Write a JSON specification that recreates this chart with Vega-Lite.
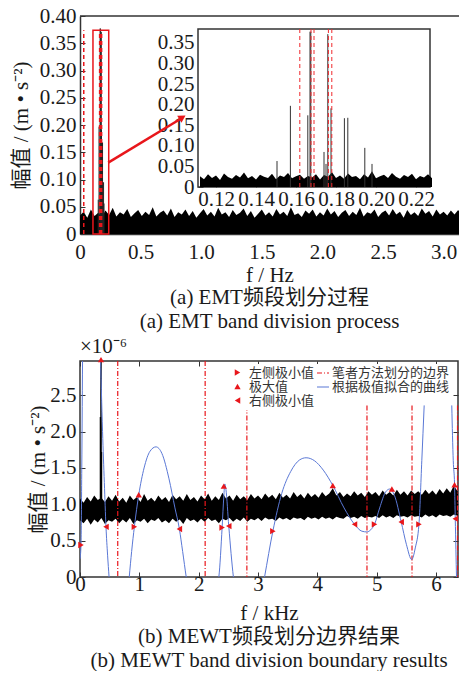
{
"$schema": "https://vega.github.io/schema/vega-lite/v6.json",
"background": "white",
"padding": {"left": 10, "top": 5, "right": 0, "bottom": 0},
"spacing": 3,
"resolve": {"scale": {"color": "independent", "shape": "independent", "strokeDash": "independent"}, "legend": {"color": "independent", "shape": "independent", "strokeDash": "independent"}},
"config": {
  "font": "Liberation Serif, Noto Sans CJK SC",
  "view": {"stroke": null},
  "axis": {"labelFontSize": 21, "labelColor": "#1a1a1a", "titleFontSize": 21, "titleFontWeight": "normal", "titleColor": "#1a1a1a", "grid": false, "tickSize": -5, "tickColor": "#333", "tickWidth": 1, "domain": false, "labelOverlap": false, "labelFlush": false, "labelPadding": 9},
  "legend": {"labelFontSize": 13, "labelColor": "#333", "labelFont": "Liberation Serif, Noto Sans CJK SC"},
  "title": {"fontWeight": "normal", "fontSize": 21, "color": "#1a1a1a"}
},
"title": {"text": ["(b)  MEWT频段划分边界结果", "(b)  MEWT band division boundary results"], "orient": "bottom", "anchor": "middle", "fontSize": 21, "lineHeight": 24, "offset": 2, "dx": 34},
"datasets": {
  "noiseT": [
    {"f":0.00,"a":0.034},{"f":0.03,"a":0.041},{"f":0.06,"a":0.030},{"f":0.09,"a":0.045},{"f":0.12,"a":0.033},{"f":0.15,"a":0.039},{"f":0.18,"a":0.031},{"f":0.21,"a":0.043},{"f":0.24,"a":0.035},{"f":0.27,"a":0.048},
    {"f":0.30,"a":0.032},{"f":0.33,"a":0.040},{"f":0.36,"a":0.036},{"f":0.39,"a":0.046},{"f":0.42,"a":0.031},{"f":0.45,"a":0.038},{"f":0.48,"a":0.044},{"f":0.51,"a":0.033},{"f":0.54,"a":0.041},{"f":0.57,"a":0.035},
    {"f":0.60,"a":0.049},{"f":0.63,"a":0.032},{"f":0.66,"a":0.039},{"f":0.69,"a":0.043},{"f":0.72,"a":0.034},{"f":0.75,"a":0.047},{"f":0.78,"a":0.031},{"f":0.81,"a":0.040},{"f":0.84,"a":0.036},{"f":0.87,"a":0.045},
    {"f":0.90,"a":0.033},{"f":0.93,"a":0.042},{"f":0.96,"a":0.030},{"f":0.99,"a":0.038},{"f":1.02,"a":0.046},{"f":1.05,"a":0.034},{"f":1.08,"a":0.041},{"f":1.11,"a":0.032},{"f":1.14,"a":0.048},{"f":1.17,"a":0.036},
    {"f":1.20,"a":0.040},{"f":1.23,"a":0.031},{"f":1.26,"a":0.044},{"f":1.29,"a":0.035},{"f":1.32,"a":0.039},{"f":1.35,"a":0.047},{"f":1.38,"a":0.033},{"f":1.41,"a":0.042},{"f":1.44,"a":0.030},{"f":1.47,"a":0.037},
    {"f":1.50,"a":0.045},{"f":1.53,"a":0.034},{"f":1.56,"a":0.040},{"f":1.59,"a":0.032},{"f":1.62,"a":0.046},{"f":1.65,"a":0.036},{"f":1.68,"a":0.041},{"f":1.71,"a":0.033},{"f":1.74,"a":0.049},{"f":1.77,"a":0.035},
    {"f":1.80,"a":0.038},{"f":1.83,"a":0.031},{"f":1.86,"a":0.043},{"f":1.89,"a":0.037},{"f":1.92,"a":0.045},{"f":1.95,"a":0.032},{"f":1.98,"a":0.040},{"f":2.01,"a":0.034},{"f":2.04,"a":0.047},{"f":2.07,"a":0.036},
    {"f":2.10,"a":0.042},{"f":2.13,"a":0.031},{"f":2.16,"a":0.039},{"f":2.19,"a":0.044},{"f":2.22,"a":0.033},{"f":2.25,"a":0.041},{"f":2.28,"a":0.035},{"f":2.31,"a":0.048},{"f":2.34,"a":0.032},{"f":2.37,"a":0.040},
    {"f":2.40,"a":0.037},{"f":2.43,"a":0.045},{"f":2.46,"a":0.031},{"f":2.49,"a":0.039},{"f":2.52,"a":0.043},{"f":2.55,"a":0.034},{"f":2.58,"a":0.046},{"f":2.61,"a":0.036},{"f":2.64,"a":0.041},{"f":2.67,"a":0.030},
    {"f":2.70,"a":0.044},{"f":2.73,"a":0.035},{"f":2.76,"a":0.040},{"f":2.79,"a":0.033},{"f":2.82,"a":0.047},{"f":2.85,"a":0.037},{"f":2.88,"a":0.042},{"f":2.91,"a":0.032},{"f":2.94,"a":0.045},{"f":2.97,"a":0.036},
    {"f":3.00,"a":0.041},{"f":3.03,"a":0.034},{"f":3.06,"a":0.043},{"f":3.09,"a":0.036},{"f":3.12,"a":0.044},{"f":3.15,"a":0.035}
  ],
  "spk": [
    {"f":0.1505,"a":0.063},{"f":0.1572,"a":0.197},{"f":0.1659,"a":0.174},{"f":0.1670,"a":0.377},{"f":0.1674,"a":0.377},{"f":0.1740,"a":0.085},
    {"f":0.1750,"a":0.056},{"f":0.1759,"a":0.371},{"f":0.1775,"a":0.191},{"f":0.1842,"a":0.167},{"f":0.1859,"a":0.168},{"f":0.1944,"a":0.095},{"f":0.1980,"a":0.056}
  ],
  "bndT": [{"f":0.031},{"f":0.1619},{"f":0.1675},{"f":0.1690},{"f":0.1762},{"f":0.1779}],
  "noiseI": [
    {"f":0.112,"a":0.026},{"f":0.114,"a":0.019},{"f":0.116,"a":0.031},{"f":0.118,"a":0.022},{"f":0.120,"a":0.028},{"f":0.122,"a":0.017},{"f":0.124,"a":0.033},{"f":0.126,"a":0.024},{"f":0.128,"a":0.020},{"f":0.130,"a":0.029},
    {"f":0.132,"a":0.023},{"f":0.134,"a":0.035},{"f":0.136,"a":0.021},{"f":0.138,"a":0.027},{"f":0.140,"a":0.018},{"f":0.142,"a":0.030},{"f":0.144,"a":0.025},{"f":0.146,"a":0.022},{"f":0.148,"a":0.032},{"f":0.150,"a":0.019},
    {"f":0.152,"a":0.028},{"f":0.154,"a":0.024},{"f":0.156,"a":0.034},{"f":0.158,"a":0.021},{"f":0.160,"a":0.026},{"f":0.162,"a":0.030},{"f":0.164,"a":0.020},{"f":0.166,"a":0.027},{"f":0.168,"a":0.023},{"f":0.170,"a":0.031},
    {"f":0.172,"a":0.018},{"f":0.174,"a":0.029},{"f":0.176,"a":0.025},{"f":0.178,"a":0.036},{"f":0.180,"a":0.022},{"f":0.182,"a":0.028},{"f":0.184,"a":0.020},{"f":0.186,"a":0.033},{"f":0.188,"a":0.024},{"f":0.190,"a":0.027},
    {"f":0.192,"a":0.019},{"f":0.194,"a":0.031},{"f":0.196,"a":0.023},{"f":0.198,"a":0.038},{"f":0.200,"a":0.021},{"f":0.202,"a":0.026},{"f":0.204,"a":0.030},{"f":0.206,"a":0.022},{"f":0.208,"a":0.034},{"f":0.210,"a":0.025},
    {"f":0.212,"a":0.020},{"f":0.214,"a":0.029},{"f":0.216,"a":0.024},{"f":0.218,"a":0.032},{"f":0.220,"a":0.019},{"f":0.222,"a":0.027},{"f":0.224,"a":0.023},{"f":0.226,"a":0.031},{"f":0.228,"a":0.021}
  ],
  "noiseB": [
    {"f":0.00,"t":1.08,"b":0.78},{"f":0.06,"t":1.02,"b":0.74},{"f":0.12,"t":1.10,"b":0.80},{"f":0.18,"t":1.04,"b":0.72},{"f":0.24,"t":1.12,"b":0.79},{"f":0.30,"t":1.06,"b":0.75},{"f":0.36,"t":1.09,"b":0.81},{"f":0.42,"t":1.03,"b":0.73},{"f":0.48,"t":1.11,"b":0.78},{"f":0.54,"t":1.05,"b":0.76},
    {"f":0.60,"t":1.13,"b":0.80},{"f":0.66,"t":1.04,"b":0.74},{"f":0.72,"t":1.09,"b":0.79},{"f":0.78,"t":1.02,"b":0.75},{"f":0.84,"t":1.12,"b":0.81},{"f":0.90,"t":1.06,"b":0.73},{"f":0.96,"t":1.10,"b":0.78},{"f":1.02,"t":1.03,"b":0.76},{"f":1.08,"t":1.14,"b":0.80},{"f":1.14,"t":1.05,"b":0.74},
    {"f":1.20,"t":1.09,"b":0.79},{"f":1.26,"t":1.04,"b":0.77},{"f":1.32,"t":1.12,"b":0.81},{"f":1.38,"t":1.06,"b":0.75},{"f":1.44,"t":1.10,"b":0.78},{"f":1.50,"t":1.03,"b":0.74},{"f":1.56,"t":1.13,"b":0.80},{"f":1.62,"t":1.07,"b":0.76},{"f":1.68,"t":1.11,"b":0.79},{"f":1.74,"t":1.05,"b":0.73},
    {"f":1.80,"t":1.14,"b":0.81},{"f":1.86,"t":1.06,"b":0.77},{"f":1.92,"t":1.10,"b":0.79},{"f":1.98,"t":1.04,"b":0.75},{"f":2.04,"t":1.12,"b":0.80},{"f":2.10,"t":1.07,"b":0.76},{"f":2.16,"t":1.15,"b":0.81},{"f":2.22,"t":1.05,"b":0.77},{"f":2.28,"t":1.11,"b":0.79},{"f":2.34,"t":1.06,"b":0.74},
    {"f":2.40,"t":1.16,"b":0.80},{"f":2.46,"t":1.08,"b":0.78},{"f":2.52,"t":1.12,"b":0.81},{"f":2.58,"t":1.05,"b":0.76},{"f":2.64,"t":1.13,"b":0.80},{"f":2.70,"t":1.07,"b":0.77},{"f":2.76,"t":1.11,"b":0.82},{"f":2.82,"t":1.06,"b":0.76},{"f":2.88,"t":1.14,"b":0.80},{"f":2.94,"t":1.08,"b":0.78},
    {"f":3.00,"t":1.12,"b":0.81},{"f":3.06,"t":1.07,"b":0.77},{"f":3.12,"t":1.15,"b":0.82},{"f":3.18,"t":1.09,"b":0.79},{"f":3.24,"t":1.13,"b":0.80},{"f":3.30,"t":1.07,"b":0.77},{"f":3.36,"t":1.16,"b":0.82},{"f":3.42,"t":1.09,"b":0.79},{"f":3.48,"t":1.13,"b":0.81},{"f":3.54,"t":1.08,"b":0.78},
    {"f":3.60,"t":1.17,"b":0.82},{"f":3.66,"t":1.10,"b":0.80},{"f":3.72,"t":1.14,"b":0.81},{"f":3.78,"t":1.08,"b":0.78},{"f":3.84,"t":1.16,"b":0.83},{"f":3.90,"t":1.10,"b":0.80},{"f":3.96,"t":1.14,"b":0.82},{"f":4.02,"t":1.09,"b":0.79},{"f":4.08,"t":1.17,"b":0.83},{"f":4.14,"t":1.11,"b":0.80},
    {"f":4.20,"t":1.15,"b":0.82},{"f":4.26,"t":1.22,"b":0.79},{"f":4.32,"t":1.12,"b":0.83},{"f":4.38,"t":1.17,"b":0.81},{"f":4.44,"t":1.10,"b":0.80},{"f":4.50,"t":1.15,"b":0.84},{"f":4.56,"t":1.11,"b":0.81},{"f":4.62,"t":1.18,"b":0.83},{"f":4.68,"t":1.12,"b":0.80},{"f":4.74,"t":1.16,"b":0.84},
    {"f":4.80,"t":1.10,"b":0.81},{"f":4.86,"t":1.18,"b":0.83},{"f":4.92,"t":1.13,"b":0.82},{"f":4.98,"t":1.17,"b":0.84},{"f":5.04,"t":1.11,"b":0.81},{"f":5.10,"t":1.19,"b":0.85},{"f":5.16,"t":1.13,"b":0.82},{"f":5.22,"t":1.17,"b":0.84},{"f":5.28,"t":1.12,"b":0.81},{"f":5.34,"t":1.20,"b":0.85},
    {"f":5.40,"t":1.13,"b":0.83},{"f":5.46,"t":1.18,"b":0.84},{"f":5.52,"t":1.12,"b":0.82},{"f":5.58,"t":1.19,"b":0.85},{"f":5.64,"t":1.14,"b":0.83},{"f":5.70,"t":1.18,"b":0.84},{"f":5.76,"t":1.13,"b":0.82},{"f":5.82,"t":1.20,"b":0.86},{"f":5.88,"t":1.14,"b":0.83},{"f":5.94,"t":1.19,"b":0.85},
    {"f":6.00,"t":1.13,"b":0.82},{"f":6.06,"t":1.21,"b":0.86},{"f":6.12,"t":1.15,"b":0.84},{"f":6.18,"t":1.22,"b":0.85},{"f":6.24,"t":1.16,"b":0.83},{"f":6.30,"t":1.26,"b":0.86},{"f":6.37,"t":1.17,"b":0.84}
  ],
  "spkB": [{"f":0.345,"v":2.2},{"f":0.354,"v":2.99},{"f":0.362,"v":1.72}],
  "bndB": [
    {"f":0.636,"top":2.971,"s":"笔者方法划分的边界"},{"f":2.109,"top":2.971,"s":"笔者方法划分的边界"},{"f":2.812,"top":2.36,"s":"笔者方法划分的边界"},
    {"f":4.836,"top":2.36,"s":"笔者方法划分的边界"},{"f":5.595,"top":2.36,"s":"笔者方法划分的边界"},{"f":6.362,"top":2.36,"s":"笔者方法划分的边界"}
  ],
  "curve": [
    {"f":0.0,"v":0.25,"seg":"A"},{"f":0.017,"v":0.44,"seg":"A"},{"f":0.03,"v":1.5,"seg":"A"},{"f":0.045,"v":3.2,"seg":"A"},{"f":0.06,"v":4.5,"seg":"A"},{"f":0.3,"v":4.5,"seg":"A"},{"f":0.34,"v":3.2,"seg":"A"},{"f":0.38,"v":2.0,"seg":"A"},{"f":0.41,"v":1.3,"seg":"A"},{"f":0.438,"v":0.69,"seg":"A"},
    {"f":0.465,"v":0.3,"seg":"A"},{"f":0.49,"v":0.0,"seg":"A"},{"f":0.55,"v":-0.6,"seg":"A"},{"f":0.7,"v":-0.8,"seg":"A"},{"f":0.8,"v":-0.3,"seg":"A"},{"f":0.83,"v":0.0,"seg":"A"},{"f":0.87,"v":0.35,"seg":"A"},{"f":0.916,"v":0.69,"seg":"A"},{"f":0.99,"v":1.13,"seg":"A"},{"f":1.08,"v":1.5,"seg":"A"},
    {"f":1.18,"v":1.73,"seg":"A"},{"f":1.28,"v":1.79,"seg":"A"},{"f":1.38,"v":1.7,"seg":"A"},{"f":1.5,"v":1.35,"seg":"A"},{"f":1.6,"v":0.95,"seg":"A"},{"f":1.675,"v":0.66,"seg":"A"},{"f":1.73,"v":0.35,"seg":"A"},{"f":1.79,"v":0.0,"seg":"A"},{"f":1.9,"v":-0.5,"seg":"A"},{"f":2.2,"v":-0.5,"seg":"A"},
    {"f":2.34,"v":0.0,"seg":"A"},{"f":2.395,"v":0.68,"seg":"A"},{"f":2.423,"v":1.1,"seg":"A"},{"f":2.44,"v":1.28,"seg":"A"},{"f":2.46,"v":1.2,"seg":"A"},{"f":2.507,"v":0.7,"seg":"A"},{"f":2.585,"v":0.0,"seg":"A"},{"f":2.7,"v":-0.5,"seg":"A"},{"f":3.0,"v":-0.5,"seg":"A"},{"f":3.11,"v":0.0,"seg":"A"},
    {"f":3.25,"v":0.63,"seg":"A"},{"f":3.4,"v":1.15,"seg":"A"},{"f":3.55,"v":1.45,"seg":"A"},{"f":3.7,"v":1.61,"seg":"A"},{"f":3.81,"v":1.64,"seg":"A"},{"f":3.95,"v":1.6,"seg":"A"},{"f":4.1,"v":1.47,"seg":"A"},{"f":4.26,"v":1.26,"seg":"A"},{"f":4.45,"v":0.95,"seg":"A"},{"f":4.626,"v":0.725,"seg":"A"},
    {"f":4.75,"v":0.63,"seg":"A"},{"f":4.835,"v":0.62,"seg":"A"},{"f":4.9,"v":0.65,"seg":"A"},{"f":4.963,"v":0.725,"seg":"A"},{"f":5.05,"v":0.95,"seg":"A"},{"f":5.15,"v":1.17,"seg":"A"},{"f":5.22,"v":1.21,"seg":"A"},{"f":5.3,"v":1.12,"seg":"A"},{"f":5.413,"v":0.757,"seg":"A"},{"f":5.5,"v":0.45,"seg":"A"},
    {"f":5.59,"v":0.24,"seg":"A"},{"f":5.65,"v":0.4,"seg":"A"},{"f":5.712,"v":0.725,"seg":"A"},{"f":5.76,"v":1.6,"seg":"A"},{"f":5.8,"v":2.36,"seg":"A"},
    {"f":6.265,"v":2.36,"seg":"B"},{"f":6.29,"v":1.6,"seg":"B"},{"f":6.312,"v":1.27,"seg":"B"},{"f":6.324,"v":0.8,"seg":"B"},{"f":6.345,"v":0.0,"seg":"B"},{"f":6.37,"v":-0.5,"seg":"B"}
  ],
  "ext": [
    {"f":0.017,"v":0.44,"type":"左侧极小值"},{"f":0.354,"v":2.99,"type":"极大值"},{"f":0.438,"v":0.69,"type":"右侧极小值"},
    {"f":0.916,"v":0.69,"type":"左侧极小值"},{"f":0.99,"v":1.13,"type":"极大值"},{"f":1.675,"v":0.66,"type":"右侧极小值"},
    {"f":2.395,"v":0.68,"type":"左侧极小值"},{"f":2.423,"v":1.25,"type":"极大值"},{"f":2.507,"v":0.70,"type":"右侧极小值"},
    {"f":3.25,"v":0.63,"type":"左侧极小值"},{"f":4.26,"v":1.26,"type":"极大值"},{"f":4.626,"v":0.725,"type":"右侧极小值"},
    {"f":4.963,"v":0.725,"type":"左侧极小值"},{"f":5.256,"v":1.21,"type":"极大值"},{"f":5.413,"v":0.757,"type":"右侧极小值"},
    {"f":5.712,"v":0.725,"type":"左侧极小值"},{"f":6.312,"v":1.27,"type":"极大值"},{"f":6.324,"v":0.80,"type":"右侧极小值"}
  ]
},
"vconcat": [
  {
    "width": 379, "height": 218,
    "title": {"text": ["(a)  EMT频段划分过程", "(a)  EMT band division process"], "orient": "bottom", "anchor": "middle", "frame": "group", "fontSize": 21, "lineHeight": 24, "offset": 2},
    "resolve": {"scale": {"x": "independent", "y": "independent"}},
    "layer": [
      {"data": {"name": "noiseT"}, "mark": {"type": "area", "color": "black", "clip": true},
       "encoding": {
         "x": {"field": "f", "type": "quantitative", "scale": {"domain": [0, 3.127], "nice": false, "zero": false},
               "axis": {"orient": "bottom", "values": [0, 0.5, 1, 1.5, 2, 2.5, 3], "labelExpr": "datum.value==0?'0':format(datum.value,'.1f')", "title": "f / Hz", "domain": true, "domainColor": "#333", "domainWidth": 1.5, "labelPadding": 12, "titlePadding": 2}},
         "y": {"field": "a", "type": "quantitative", "scale": {"domain": [0, 0.4], "nice": false, "zero": false},
               "axis": {"orient": "left", "values": [0, 0.05, 0.1, 0.15, 0.2, 0.25, 0.3, 0.35, 0.4], "labelExpr": "datum.value==0?'0':format(datum.value,'.2f')", "title": "幅值 / (m • s⁻²)", "domain": true, "domainColor": "#333", "domainWidth": 1.5, "titlePadding": 8}}
       }},
      {"data": {"values": [{"k": 1}]}, "mark": {"type": "rule", "color": "#333", "strokeWidth": 1.5},
       "encoding": {"y": {"datum": 0.4, "type": "quantitative", "scale": {"domain": [0, 0.4], "nice": false, "zero": false}, "axis": null}}},
      {"data": {"name": "spk"}, "mark": {"type": "rule", "color": "#222", "strokeWidth": 1},
       "encoding": {
         "x": {"field": "f", "type": "quantitative", "scale": {"domain": [0, 3.127], "nice": false, "zero": false}, "axis": null},
         "y": {"field": "a", "type": "quantitative", "scale": {"domain": [0, 0.4], "nice": false, "zero": false}, "axis": null},
         "y2": {"datum": 0}}},
      {"data": {"name": "bndT"}, "mark": {"type": "rule", "color": "#e8161b", "strokeWidth": 1.5, "strokeDash": [4, 3]},
       "encoding": {
         "x": {"field": "f", "type": "quantitative", "scale": {"domain": [0, 3.127], "nice": false, "zero": false}, "axis": null},
         "y": {"datum": 0, "type": "quantitative", "scale": {"domain": [0, 0.4], "nice": false, "zero": false}, "axis": null},
         "y2": {"datum": 0.374}}},
      {"data": {"values": [{"k": 1}]}, "mark": {"type": "rect", "fill": "white", "fillOpacity": 0, "stroke": "#e8161b", "strokeWidth": 1.5},
       "encoding": {
         "x": {"datum": 0.107, "type": "quantitative", "scale": {"domain": [0, 3.127], "nice": false, "zero": false}, "axis": null}, "x2": {"datum": 0.237},
         "y": {"datum": 0, "type": "quantitative", "scale": {"domain": [0, 0.4], "nice": false, "zero": false}, "axis": null}, "y2": {"datum": 0.374}}},
      {"data": {"values": [{"k": 1}]}, "mark": {"type": "rule", "color": "#e8161b", "strokeWidth": 2.5},
       "encoding": {
         "x": {"datum": 0.233, "type": "quantitative", "scale": {"domain": [0, 3.127], "nice": false, "zero": false}, "axis": null}, "x2": {"datum": 0.835},
         "y": {"datum": 0.131, "type": "quantitative", "scale": {"domain": [0, 0.4], "nice": false, "zero": false}, "axis": null}, "y2": {"datum": 0.212}}},
      {"data": {"values": [{"k": 1}]}, "mark": {"type": "point", "shape": "triangle-right", "angle": -31, "filled": true, "color": "#e8161b", "size": 70, "opacity": 1},
       "encoding": {
         "x": {"datum": 0.845, "type": "quantitative", "scale": {"domain": [0, 3.127], "nice": false, "zero": false}, "axis": null},
         "y": {"datum": 0.214, "type": "quantitative", "scale": {"domain": [0, 0.4], "nice": false, "zero": false}, "axis": null}}},
      {"data": {"values": [{"k": 1}]}, "mark": {"type": "rect", "fill": "white", "stroke": "#333", "strokeWidth": 1.5},
       "encoding": {
         "x": {"datum": 0.111, "type": "quantitative", "scale": {"domain": [0.111, 0.227], "range": [118, 350], "nice": false, "zero": false}, "axis": null}, "x2": {"datum": 0.227},
         "y": {"datum": 0, "type": "quantitative", "scale": {"domain": [0, 0.3835], "range": [171, 13], "nice": false, "zero": false}, "axis": null}, "y2": {"datum": 0.3835}}},
      {"data": {"name": "noiseI"}, "mark": {"type": "area", "color": "black"},
       "encoding": {
         "x": {"field": "f", "type": "quantitative", "scale": {"domain": [0.111, 0.227], "range": [118, 350], "nice": false, "zero": false},
               "axis": {"orient": "bottom", "offset": -47, "values": [0.12, 0.14, 0.16, 0.18, 0.2, 0.22], "format": ".2f", "title": null, "labelPadding": 6}},
         "y": {"field": "a", "type": "quantitative", "scale": {"domain": [0, 0.3835], "range": [171, 13], "nice": false, "zero": false},
               "axis": {"orient": "left", "offset": -118, "values": [0, 0.05, 0.1, 0.15, 0.2, 0.25, 0.3, 0.35], "labelExpr": "datum.value==0?'0':format(datum.value,'.2f')", "title": null}}
       }},
      {"data": {"name": "spk"}, "mark": {"type": "rule", "color": "#333", "strokeWidth": 1},
       "encoding": {
         "x": {"field": "f", "type": "quantitative", "scale": {"domain": [0.111, 0.227], "range": [118, 350], "nice": false, "zero": false}, "axis": null},
         "y": {"field": "a", "type": "quantitative", "scale": {"domain": [0, 0.3835], "range": [171, 13], "nice": false, "zero": false}, "axis": null},
         "y2": {"datum": 0}}},
      {"data": {"name": "bndT"}, "mark": {"type": "rule", "color": "#f0282d", "strokeWidth": 1, "strokeDash": [4, 3], "clip": true},
       "encoding": {
         "x": {"field": "f", "type": "quantitative", "scale": {"domain": [0.111, 0.227], "range": [118, 350], "nice": false, "zero": false}, "axis": null},
         "y": {"datum": 0, "type": "quantitative", "scale": {"domain": [0, 0.3835], "range": [171, 13], "nice": false, "zero": false}, "axis": null},
         "y2": {"datum": 0.3835}}}
    ]
  },
  {
    "width": 378, "height": 216,
    "view": {"stroke": "#333", "strokeWidth": 1.5},
    "title": {"text": "×10⁻⁶", "anchor": "start", "frame": "group", "orient": "top", "fontSize": 21, "offset": 0},
    "layer": [
      {"data": {"name": "noiseB"}, "mark": {"type": "area", "color": "black", "clip": true},
       "encoding": {
         "x": {"field": "f", "type": "quantitative", "scale": {"domain": [0, 6.37], "nice": false, "zero": false},
               "axis": {"orient": "bottom", "values": [0, 1, 2, 3, 4, 5, 6], "title": "f / kHz", "labelPadding": 1, "titlePadding": 8}},
         "y": {"field": "t", "type": "quantitative", "scale": {"domain": [0, 2.971], "nice": false, "zero": false},
               "axis": {"orient": "left", "values": [0, 0.5, 1, 1.5, 2, 2.5], "labelExpr": "datum.value==0?'0':format(datum.value,'.1f')", "title": "幅值 / (m • s⁻²)", "titlePadding": 1}},
         "y2": {"field": "b"}
       }},
      {"data": {"name": "spkB"}, "mark": {"type": "rule", "color": "black", "strokeWidth": 1.5},
       "encoding": {"x": {"field": "f", "type": "quantitative", "axis": {"orient": "top", "values": [0, 1, 2, 3, 4, 5, 6], "labels": false, "title": null}}, "y": {"field": "v", "type": "quantitative", "axis": null}, "y2": {"datum": 0.9}}},
      {"data": {"name": "bndB"}, "mark": {"type": "rule", "strokeWidth": 1.2},
       "encoding": {
         "x": {"field": "f", "type": "quantitative", "axis": null},
         "y": {"field": "top", "type": "quantitative", "axis": null}, "y2": {"datum": 0},
         "color": {"field": "s", "type": "nominal", "scale": {"domain": ["笔者方法划分的边界", "根据极值拟合的曲线"], "range": ["#e8161b", "#5a78d6"]},
                   "legend": {"orient": "none", "legendX": 234, "legendY": 3, "title": null, "symbolType": "stroke", "symbolSize": 144, "symbolStrokeWidth": 1.2, "labelOffset": 2, "rowPadding": -6, "padding": 2, "fillColor": "white", "zindex": 1}},
         "strokeDash": {"field": "s", "type": "nominal", "scale": {"domain": ["笔者方法划分的边界", "根据极值拟合的曲线"], "range": [[5, 2, 1, 2], [1, 0]]},
                   "legend": {"orient": "none", "legendX": 234, "legendY": 3, "title": null, "symbolType": "stroke", "symbolSize": 144, "symbolStrokeWidth": 1.2, "labelOffset": 2, "rowPadding": -6, "padding": 2, "fillColor": "white", "zindex": 1}}
       }},
      {"data": {"name": "curve"}, "mark": {"type": "line", "strokeWidth": 1, "interpolate": "monotone", "clip": true, "color": "#5a78d6"},
       "encoding": {
         "x": {"field": "f", "type": "quantitative", "axis": null},
         "y": {"field": "v", "type": "quantitative", "axis": {"orient": "right", "values": [0, 0.5, 1, 1.5, 2, 2.5], "labels": false, "title": null}},
         "detail": {"field": "seg", "type": "nominal"}
       }},
      {"data": {"name": "ext"}, "mark": {"type": "point", "filled": true, "color": "#e8161b", "size": 40, "opacity": 1},
       "encoding": {
         "x": {"field": "f", "type": "quantitative", "axis": null},
         "y": {"field": "v", "type": "quantitative", "axis": null},
         "shape": {"field": "type", "type": "nominal", "scale": {"domain": ["左侧极小值", "极大值", "右侧极小值"], "range": ["triangle-right", "triangle-up", "triangle-left"]},
                   "legend": {"orient": "none", "legendX": 149, "legendY": 3, "title": null, "symbolSize": 40, "symbolFillColor": "#e8161b", "symbolStrokeColor": "#e8161b", "labelOffset": 5, "rowPadding": -6, "padding": 2, "fillColor": "white", "zindex": 1}}
       }}
    ]
  }
]
}
